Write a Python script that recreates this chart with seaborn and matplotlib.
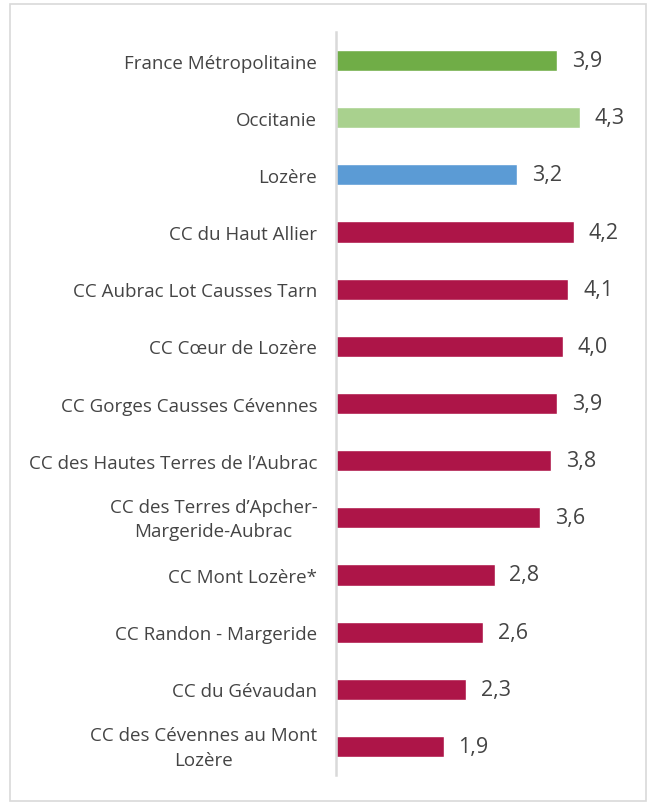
import matplotlib
matplotlib.use("Agg")
import matplotlib.pyplot as plt
import matplotlib.transforms as mtransforms
from matplotlib.patches import Rectangle
import seaborn as sns

categories = [
    "France Métropolitaine",
    "Occitanie",
    "Lozère",
    "CC du Haut Allier",
    "CC Aubrac Lot Causses Tarn",
    "CC Cœur de Lozère",
    "CC Gorges Causses Cévennes",
    "CC des Hautes Terres de l\u2019Aubrac",
    "CC des Terres d\u2019Apcher-\nMargeride-Aubrac",
    "CC Mont Lozère*",
    "CC Randon - Margeride",
    "CC du Gévaudan",
    "CC des Cévennes au Mont\nLozère",
]
values = [3.9, 4.3, 3.2, 4.2, 4.1, 4.0, 3.9, 3.8, 3.6, 2.8, 2.6, 2.3, 1.9]
bar_colors = ["#70AD47", "#A9D18E", "#5B9BD5"] + ["#AD1548"] * 10

sns.set_theme(style="white")
plt.rcParams["font.family"] = ["Open Sans", "DejaVu Sans"]

fig = plt.figure(figsize=(6.52, 8.03), dpi=100)
ax = fig.add_axes([336 / 652, 27 / 803, 283.5 / 652, 743 / 803])

sns.barplot(x=values, y=categories, hue=categories, palette=bar_colors,
            legend=False, width=0.37, orient="h", ax=ax, saturation=1)

for cont in ax.containers:
    ax.bar_label(cont, labels=[f"{v:.1f}".replace(".", ",") for v in cont.datavalues],
                 padding=10.5, fontsize=15.5, color="#444444")

ax.set_xlim(0, 5)
ax.set_ylim(12.5, -0.5)
ax.set_xlabel("")
ax.set_ylabel("")
ax.set_xticks([])
ax.tick_params(axis="y", length=0, pad=13.5, labelsize=13.5, labelcolor="#444444")

# two-line labels sit a little higher so they stay centred on their bar
lift = mtransforms.ScaledTranslation(0, 4 / 100, fig.dpi_scale_trans)
for lbl in ax.get_yticklabels():
    lbl.set_multialignment("center")
    lbl.set_linespacing(1.45)
    if "\n" in lbl.get_text():
        lbl.set_transform(lbl.get_transform() + lift)

for side in ["top", "right", "bottom"]:
    ax.spines[side].set_visible(False)
ax.spines["left"].set_color("#D9D9D9")
ax.spines["left"].set_linewidth(1.8)

fig.patches.append(Rectangle((10 / 652, 1 / 803), 636 / 652, 797 / 803,
                             transform=fig.transFigure, fill=False,
                             edgecolor="#D9D9D9", linewidth=1.2))

fig.savefig("out.png", dpi=100)
